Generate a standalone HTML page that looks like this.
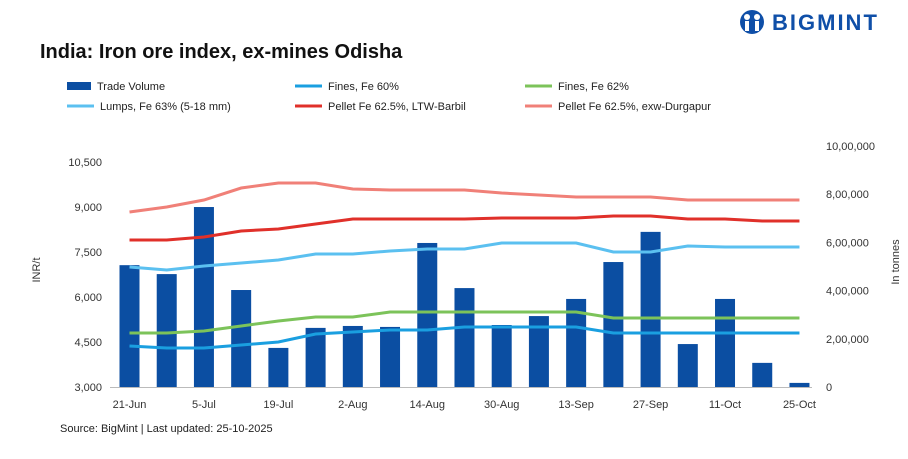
<!DOCTYPE html>
<html><head><meta charset="utf-8"><style>
body{margin:0;background:#fff;font-family:"Liberation Sans",sans-serif;}
svg text{font-family:"Liberation Sans",sans-serif;}
</style></head><body>
<svg id="c" width="908" height="454">
<g>
<circle cx="752" cy="22" r="12" fill="#0f4fa8"/>
<circle cx="747" cy="17" r="3" fill="#fff"/><circle cx="757" cy="17" r="3" fill="#fff"/>
<rect x="745" y="21" width="4" height="10" fill="#fff"/><rect x="755" y="21" width="4" height="10" fill="#fff"/>
<text x="772" y="30" font-size="22" font-weight="bold" fill="#0f4fa8" letter-spacing="2">BIGMINT</text>
</g>
<text x="40" y="58" font-size="20" font-weight="bold" fill="#111">India: Iron ore index, ex-mines Odisha</text>
<g id="legend" font-size="11" fill="#222"></g>
<g id="grid"></g><g id="bars"></g><g id="lines"></g><g id="axes" font-size="11" fill="#333"></g>
<text transform="translate(40,270) rotate(-90)" font-size="11" fill="#333" text-anchor="middle">INR/t</text>
<text transform="translate(899,262) rotate(-90)" font-size="11" fill="#333" text-anchor="middle">In tonnes</text>
<text x="60" y="432" font-size="11" fill="#222">Source: BigMint | Last updated: 25-10-2025</text>
</svg>
<script>
const categories=["21-Jun","28-Jun","5-Jul","12-Jul","19-Jul","26-Jul","2-Aug","9-Aug","14-Aug","23-Aug","30-Aug","6-Sep","13-Sep","20-Sep","27-Sep","4-Oct","11-Oct","18-Oct","25-Oct"];
const tradeVolume=[505000,468000,746000,402000,162000,245000,253000,249000,597000,410000,257000,294000,365000,518000,643000,178000,365000,100000,17000];
const pelletDurgapur=[8833,9000,9233,9633,9800,9800,9600,9567,9567,9567,9467,9400,9333,9333,9333,9233,9233,9233,9233];
const pelletBarbil=[7900,7900,8000,8200,8267,8433,8600,8600,8600,8600,8633,8633,8633,8700,8700,8600,8600,8533,8533];
const lumps63=[7000,6900,7033,7133,7233,7433,7433,7533,7600,7600,7800,7800,7800,7500,7500,7700,7667,7667,7667];
const fines62=[4800,4800,4867,5033,5200,5333,5333,5500,5500,5500,5500,5500,5500,5300,5300,5300,5300,5300,5300];
const fines60=[4367,4300,4300,4400,4500,4767,4833,4900,4900,5000,5000,5000,5000,4800,4800,4800,4800,4800,4800];
const leftTicks=[3000,4500,6000,7500,9000,10500];
const rightTicks=[0,200000,400000,600000,800000,1000000];
const rightLabels=["0","2,00,000","4,00,000","6,00,000","8,00,000","10,00,000"];
const NS="http://www.w3.org/2000/svg";
const x0=129.5,dx=37.22,yB=387;
const xs=i=>x0+i*dx;
const yL=v=>yB-(v-3000)*0.03;
const yR=v=>yB-v*241.25/1000000;
function mk(t,a,p){const e=document.createElementNS(NS,t);for(const k in a)e.setAttribute(k,a[k]);p.appendChild(e);return e;}
const bars=document.getElementById('bars');
tradeVolume.forEach((v,i)=>{const r=mk('rect',{x:xs(i)-10,y:yR(v),width:20,height:yB-yR(v),fill:'#0b4ea2'},bars);

});
const series=[[pelletDurgapur,'#f08078','pellet-durgapur-line'],[pelletBarbil,'#e0302a','pellet-barbil-line'],[lumps63,'#5bc0f0','lumps-63-line'],[fines62,'#7cc35a','fines-62-line'],[fines60,'#1a9fe0','fines-60-line']];
const lines=document.getElementById('lines');
series.forEach(s=>{const p=mk('polyline',{points:s[0].map((v,i)=>xs(i)+','+yL(v)).join(' '),fill:'none',stroke:s[1],'stroke-width':3},lines);

});
const ax=document.getElementById('axes');
mk('line',{x1:110,x2:812,y1:yB+0.5,y2:yB+0.5,stroke:'#bbb'},ax);
leftTicks.forEach(v=>{const t=mk('text',{x:102,y:yL(v)+4,'text-anchor':'end'},ax);t.textContent=v.toLocaleString('en-US');

});
rightTicks.forEach((v,i)=>{const t=mk('text',{x:826,y:yR(v)+4},ax);t.textContent=rightLabels[i];

});
categories.forEach((c,i)=>{if(i%2)return;const t=mk('text',{x:xs(i),y:408,'text-anchor':'middle'},ax);t.textContent=c;

});
const lg=document.getElementById('legend');
const items=[['Trade Volume','#0b4ea2',67,90,1],['Fines, Fe 60%','#1a9fe0',295,90,0],['Fines, Fe 62%','#7cc35a',525,90,0],['Lumps, Fe 63% (5-18 mm)','#5bc0f0',67,110,0],['Pellet Fe 62.5%, LTW-Barbil','#e0302a',295,110,0],['Pellet Fe  62.5%, exw-Durgapur','#f08078',525,110,0]];
items.forEach(it=>{const g=mk('g',{},lg);


if(it[4])mk('rect',{x:it[2],y:it[3]-8,width:24,height:8,fill:it[1]},g);else mk('line',{x1:it[2],x2:it[2]+27,y1:it[3]-4,y2:it[3]-4,stroke:it[1],'stroke-width':3},g);
const t=mk('text',{x:it[2]+(it[4]?30:33),y:it[3]},g);t.textContent=it[0];});
</script>
</body></html>
